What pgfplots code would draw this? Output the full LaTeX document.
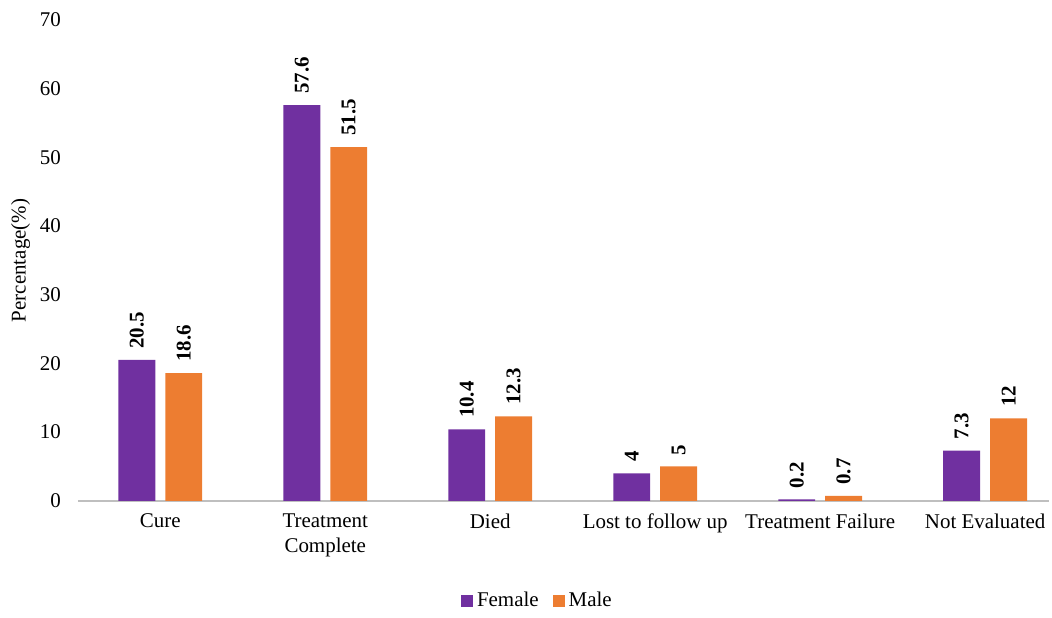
\documentclass[border=0pt]{standalone}
\usepackage{pgfplots}
\pgfplotsset{compat=1.18}
\usepackage{fontspec}
\setmainfont{Liberation Serif}
\definecolor{fem}{HTML}{7030A0}
\definecolor{mal}{HTML}{ED7D31}
\begin{document}
\begin{tikzpicture}
\begin{axis}[
  scale only axis,
  width=487pt, height=241pt,
  ybar=5pt, bar width=18.5pt,
  ymin=0, ymax=70, ytick={0,10,...,70},
  xmin=-0.5, xmax=5.39,
  xtick=data,
  xticklabels={Cure,{Treatment\\Complete},Died,Lost to follow up,Treatment Failure,Not Evaluated},
  x tick label style={align=center, yshift=-3pt, font=\fontsize{10.5}{12.5}\selectfont},
  y tick label style={xshift=-5pt, font=\fontsize{10.5}{12.5}\selectfont},
  /pgf/number format/assume math mode=true,
  major tick length=0pt,
  axis x line*=bottom, axis y line*=left,
  x axis line style={draw=black!25, line width=0.8pt},
  y axis line style={draw=none},
  ylabel={Percentage(\%)},
  ylabel style={font=\fontsize{10.5}{12.5}\selectfont, yshift=-2pt},
  nodes near coords,
  every node near coord/.append style={rotate=90, anchor=west, inner sep=5.5pt, font=\bfseries\fontsize{10.5}{12.5}\selectfont, text=black},
  legend style={at={(0.474,-0.2075)}, anchor=center, draw=none, legend columns=2, font=\fontsize{10.5}{12.5}\selectfont, /tikz/every even column/.append style={column sep=5pt}},
  legend image code/.code={\fill[#1] (0pt,-3pt) rectangle (6pt,3pt);},
]
\addplot[fill=fem, draw=none] coordinates {(0,20.5) (1,57.6) (2,10.4) (3,4) (4,0.2) (5,7.3)};
\addplot[fill=mal, draw=none] coordinates {(0,18.6) (1,51.5) (2,12.3) (3,5) (4,0.7) (5,12)};
\legend{Female,Male}
\end{axis}
\useasboundingbox ([xshift=-39pt,yshift=-57.5pt]current axis.south west) rectangle ([yshift=10pt]current axis.north east);
\end{tikzpicture}
\end{document}
